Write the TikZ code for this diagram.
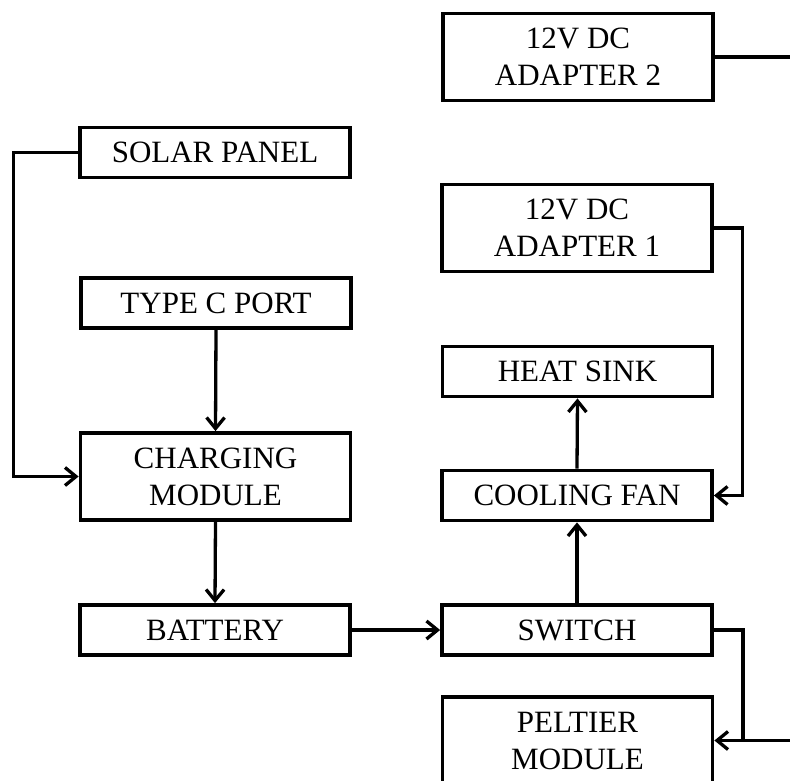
\documentclass[tikz,border=0pt]{standalone}
\usepackage{fontspec}
\setmainfont{Liberation Serif}
\usetikzlibrary{arrows.meta}
\begin{document}
\begin{tikzpicture}[x=1pt,y=-1pt,
 blk/.style={draw, line width=3.8pt, minimum width=270pt, minimum height=#1, inner sep=0pt, align=center, font=\fontsize{31}{37}\selectfont},
 blk/.default=50pt,
 wire/.style={line width=3.3pt},
 conn/.style={wire, -{Straight Barb[length=11pt,width=18pt]}}]
\useasboundingbox (0,0) rectangle (790,780);
\node[blk=87pt] (a2) at (578,57) {12V DC\\ADAPTER 2};
\node[blk] (solar) at (215,152.5) {SOLAR PANEL};
\node[blk=87pt] (a1) at (577,228) {12V DC\\ADAPTER 1};
\node[blk] (typec) at (216,303) {TYPE C PORT};
\node[blk] (heat) at (577.5,371.5) {HEAT SINK};
\node[blk=87pt] (charge) at (215.5,476.5) {CHARGING\\MODULE};
\node[blk] (fan) at (577,495.5) {COOLING FAN};
\node[blk] (bat) at (215,630) {BATTERY};
\node[blk] (sw) at (577,630) {SWITCH};
\node[blk=87pt] (pelt) at (577.5,740.5) {PELTIER\\MODULE};
\coordinate (e2) at (790,57);
\coordinate (sc) at (13.5,152.5);
\coordinate (ac) at (742.5,228);
\coordinate (sc2) at (743,630);
\coordinate (j) at (743,740.5);
\coordinate (e3) at (790,740.5);
\draw[wire] (a2.east) -- (e2);
\draw[conn] (solar.west) -- (sc) |- (charge.west);
\draw[conn] (a1.east) -- (ac) |- (fan.east);
\draw[conn] (typec.south) -- (charge.north);
\draw[conn] (charge.south) -- (bat.north);
\draw[conn] (bat.east) -- (sw.west);
\draw[conn] (sw.north) -- (fan.south);
\draw[conn] (fan.north) -- (heat.south);
\draw[conn] (sw.east) -- (sc2) |- (pelt.east);
\draw[wire] (e3) -- (j);
\end{tikzpicture}
\end{document}
